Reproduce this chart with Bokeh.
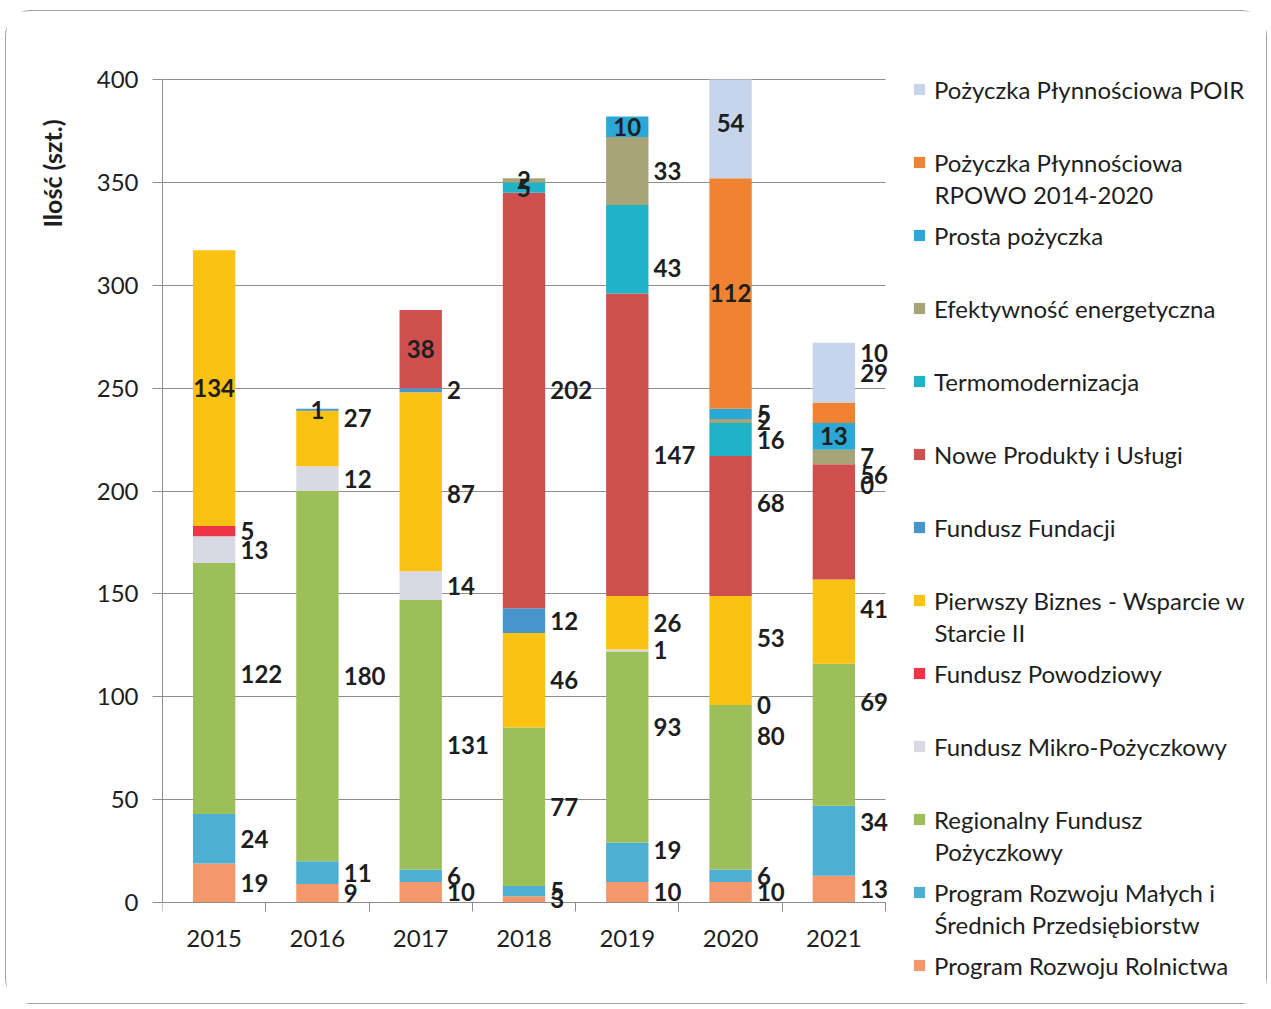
from bokeh.plotting import figure
from bokeh.models import (ColumnDataSource, Range1d, FixedTicker, Legend, LegendItem,
                          LabelSet, Label, Title)
from bokeh.core.properties import value
from bokeh.embed import file_html
from bokeh.resources import INLINE

# ---------------- data ----------------
years = ["2015", "2016", "2017", "2018", "2019", "2020", "2021"]

program_rozwoju_rolnictwa = [19, 9, 10, 3, 10, 10, 13]
program_rozwoju_msp = [24, 11, 6, 5, 19, 6, 34]
regionalny_fundusz_pozyczkowy = [122, 180, 131, 77, 93, 80, 69]
fundusz_mikro_pozyczkowy = [13, 12, 14, None, 1, 0, None]
fundusz_powodziowy = [5, None, None, None, None, None, None]
pierwszy_biznes = [134, 27, 87, 46, 26, 53, 41]
fundusz_fundacji = [None, 1, 2, 12, None, None, None]
nowe_produkty_i_uslugi = [None, None, 38, 202, 147, 68, 56]
termomodernizacja = [None, None, None, 5, 43, 16, 0]
efektywnosc_energetyczna = [None, None, None, 2, 33, 2, 7]
prosta_pozyczka = [None, None, None, None, 10, 5, 13]
pozyczka_plynnosciowa_rpowo = [None, None, None, None, None, 112, 10]
pozyczka_plynnosciowa_poir = [None, None, None, None, None, 54, 29]

y_ticks = [0, 50, 100, 150, 200, 250, 300, 350, 400]
y_title = "Ilość (szt.)"

# stacking order, bottom -> top: (key, legend label, values, colour)
series = [
    ("rolnictwa", "Program Rozwoju Rolnictwa", program_rozwoju_rolnictwa, "#F4976A"),
    ("msp", "Program Rozwoju Małych i\nŚrednich Przedsiębiorstw", program_rozwoju_msp, "#4DB0D3"),
    ("rfp", "Regionalny Fundusz\nPożyczkowy", regionalny_fundusz_pozyczkowy, "#9CBF5A"),
    ("mikro", "Fundusz Mikro-Pożyczkowy", fundusz_mikro_pozyczkowy, "#D9D9E4"),
    ("powodziowy", "Fundusz Powodziowy", fundusz_powodziowy, "#EE3447"),
    ("pierwszy", "Pierwszy Biznes - Wsparcie w\nStarcie II", pierwszy_biznes, "#FAC314"),
    ("fundacji", "Fundusz Fundacji", fundusz_fundacji, "#4796CB"),
    ("nowe", "Nowe Produkty i Usługi", nowe_produkty_i_uslugi, "#CF4F4F"),
    ("termo", "Termomodernizacja", termomodernizacja, "#20B3C8"),
    ("efekt", "Efektywność energetyczna", efektywnosc_energetyczna, "#A7A477"),
    ("prosta", "Prosta pożyczka", prosta_pozyczka, "#2AA9D6"),
    ("rpowo", "Pożyczka Płynnościowa\nRPOWO 2014-2020", pozyczka_plynnosciowa_rpowo, "#EF8332"),
    ("poir", "Pożyczka Płynnościowa POIR", pozyczka_plynnosciowa_poir, "#C6D5EB"),
]

# label styling: which labels sit inside the bar, and small vertical nudges (in value units)
inside_labels = {("2015", "pierwszy"), ("2016", "fundacji"), ("2017", "nowe"),
                 ("2018", "termo"), ("2018", "efekt"), ("2019", "prosta"),
                 ("2020", "rpowo"), ("2020", "poir"), ("2021", "prosta")}
label_nudge = {("2015", "rfp"): 7, ("2016", "pierwszy"): 10, ("2017", "rfp"): -5,
               ("2017", "pierwszy"): -6, ("2018", "nowe"): 5, ("2019", "rfp"): 10,
               ("2019", "msp"): 6, ("2019", "nowe"): -5, ("2019", "termo"): -9,
               ("2020", "rfp"): 25, ("2020", "pierwszy"): 6, ("2020", "nowe"): 11,
               ("2021", "msp"): 9, ("2021", "rfp"): 16, ("2021", "pierwszy"): 6,
               ("2021", "nowe"): 23, ("2021", "termo"): -10, ("2021", "rpowo"): 29}

FONT = "Lato"
TEXT = "#1e1e1e"
GRID = "#8e8e8e"
LEG_FS = "24px"
Y_MAX = y_ticks[-1]           # value axis ends here; bars are cut at it

# ---------------- geometry (pixels) ----------------
OX, OY = 6, 11                # page position of the canvas (outer margin + 1px border)
W, H = 1262, 994
BL = 162 - OX                 # plot area starts at page x=162
TOP_PAD = 79 - OY             # px between canvas top and the 400 line (page y=79)
PLOT_W, PLOT_H = 723, 823     # visible chart area (7 categories, 0..400)
frame_w = W - BL
x_end = 0.5 + 7 * frame_w / PLOT_W
y_end = Y_MAX + Y_MAX * TOP_PAD / PLOT_H
y_start = Y_MAX - Y_MAX * (H - TOP_PAD) / PLOT_H

p = figure(width=W, height=H, x_range=Range1d(0.5, x_end), y_range=Range1d(y_start, y_end),
           output_backend="svg", toolbar_location=None,
           min_border_left=BL, min_border_top=0, min_border_right=0, min_border_bottom=0)
p.styles = {"border": "1px solid #a0a0a0", "border-radius": "26px",
            "margin-left": f"{OX - 1}px", "margin-top": f"{OY - 1}px"}
p.outline_line_color = None
p.background_fill_color = "white"
p.border_fill_color = "white"

xs = [i + 1 for i in range(len(years))]
bar_w = 0.41

cum = [0.0] * len(years)
renderers = {}
lab_in = dict(x=[], y=[], text=[])
lab_out = dict(x=[], y=[], text=[])
for key, name, vals, color in series:
    bottoms, tops = [], []
    for i, v in enumerate(vals):
        vv = 0 if v is None else v
        b = cum[i]
        bottoms.append(min(b, Y_MAX))
        tops.append(min(b + vv, Y_MAX))
        if v is not None:
            mid = b + vv / 2 + label_nudge.get((years[i], key), 0)
            if (years[i], key) in inside_labels:
                lab_in["x"].append(xs[i]); lab_in["y"].append(mid); lab_in["text"].append(str(v))
            else:
                lab_out["x"].append(xs[i] + bar_w / 2 + 0.05); lab_out["y"].append(mid)
                lab_out["text"].append(str(v))
        cum[i] = b + vv
    src = ColumnDataSource(dict(x=xs, bottom=bottoms, top=tops))
    r = p.vbar(x="x", bottom="bottom", top="top", width=bar_w, source=src,
               fill_color=color, line_color=None)
    renderers[key] = (name, r)

for data, align in ((lab_in, "center"), (lab_out, "left")):
    ls = LabelSet(x="x", y="y", text="text", source=ColumnDataSource(data),
                  text_font=value(FONT), text_font_style="bold", text_font_size="24px",
                  text_color=TEXT, text_align=align, text_baseline="middle")
    p.add_layout(ls)

# ---------------- axes & grid ----------------
p.xgrid.grid_line_color = None
p.ygrid.grid_line_color = GRID
p.ygrid.ticker = FixedTicker(ticks=y_ticks)
try:
    p.ygrid.cross_bounds = (0.5, 7.5)
except AttributeError:
    p.ygrid.grid_line_color = None
    p.segment(x0=[0.5] * len(y_ticks), x1=[7.5] * len(y_ticks), y0=y_ticks, y1=y_ticks,
              line_color=GRID, line_width=1, level="underlay")

p.xaxis.fixed_location = 0
p.xaxis.bounds = (0.5, 7.5)
p.xaxis.ticker = FixedTicker(ticks=xs, minor_ticks=[x - 0.5 for x in xs] + [xs[-1] + 0.5])
p.xaxis.major_label_overrides = {x: y for x, y in zip(xs, years)}
p.xaxis.major_tick_out = 0
p.xaxis.major_tick_in = 0
p.xaxis.minor_tick_out = 9
p.xaxis.minor_tick_in = 0
p.xaxis.minor_tick_line_color = GRID
p.xaxis.axis_line_color = GRID
p.xaxis.major_label_standoff = 18
p.xaxis.major_label_text_font = FONT
p.xaxis.major_label_text_font_size = "24px"
p.xaxis.major_label_text_color = TEXT

p.yaxis.bounds = (0, Y_MAX)
p.yaxis.ticker = FixedTicker(ticks=y_ticks)
p.yaxis.minor_tick_line_color = None
p.yaxis.major_tick_out = 10
p.yaxis.major_tick_in = 0
p.yaxis.major_tick_line_color = GRID
p.yaxis.axis_line_color = GRID
p.yaxis.major_label_standoff = 14
p.yaxis.major_label_text_font = FONT
p.yaxis.major_label_text_font_size = "24px"
p.yaxis.major_label_text_color = TEXT

ytitle = Title(text=y_title, align="right", offset=40 + TOP_PAD, standoff=54,
               text_font=FONT, text_font_style="bold", text_font_size="25px", text_color=TEXT)
p.add_layout(ytitle, "left")

# ---------------- legend (top item first) ----------------
LEG_X = 750             # glyph left, px right of the plot's left edge
ROW0, PITCH = 89, 73    # page y of first row centre, row pitch
ITEM_H = 29
FRAME_BOTTOM = OY + H   # page y of the plot frame's bottom edge
order = [s[0] for s in series][::-1]
items = []
for i, k in enumerate(order):
    name, r = renderers[k]
    lines = name.split("\n")
    items.append(LegendItem(label=lines[0], renderers=[r]))
    yc = ROW0 + i * PITCH
    for j, extra in enumerate(lines[1:], start=1):
        p.add_layout(Label(x=LEG_X + 14 + 8, y=FRAME_BOTTOM - (yc + j * 32), x_units="screen",
                           y_units="screen", text=extra, text_font=FONT,
                           text_font_size=LEG_FS, text_color=TEXT, text_align="left",
                           text_baseline="middle"))
last_bottom = ROW0 + (len(order) - 1) * PITCH + ITEM_H / 2
legend = Legend(items=items, location=(LEG_X, FRAME_BOTTOM - last_bottom),
                glyph_width=14, glyph_height=14, label_standoff=8, padding=0, margin=0,
                spacing=PITCH - ITEM_H, label_height=ITEM_H, border_line_color=None,
                background_fill_alpha=0, label_text_font=FONT, label_text_font_size=LEG_FS,
                label_text_color=TEXT, label_text_baseline="middle")
p.add_layout(legend, "center")

open("out.html", "w").write(file_html(p, INLINE))
